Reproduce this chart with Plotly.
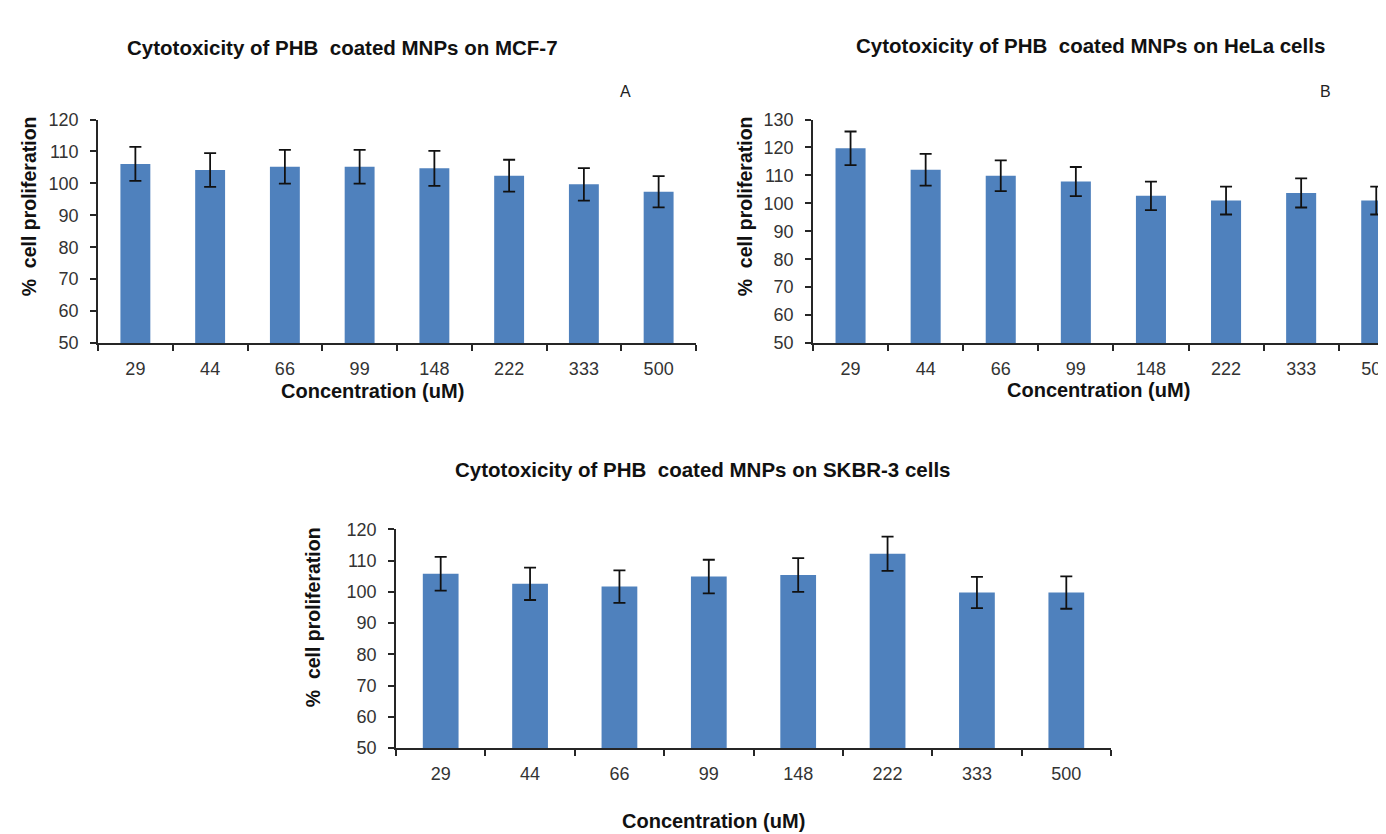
import plotly.graph_objects as go

W, H = 1386, 834

concentrations = ["29", "44", "66", "99", "148", "222", "333", "500"]

mcf7_values = [106.1, 104.2, 105.2, 105.2, 104.7, 102.4, 99.7, 97.4]
mcf7_errors = [5.3, 5.3, 5.3, 5.3, 5.5, 5.0, 5.1, 4.9]

hela_values = [119.7, 112.0, 109.9, 107.8, 102.7, 101.0, 103.7, 101.0]
hela_errors = [6.0, 5.7, 5.5, 5.2, 5.1, 5.0, 5.2, 5.0]

skbr3_values = [105.8, 102.6, 101.7, 104.9, 105.4, 112.2, 99.8, 99.8]
skbr3_errors = [5.4, 5.2, 5.2, 5.4, 5.4, 5.5, 5.0, 5.2]

titles = [
    "Cytotoxicity of PHB  coated MNPs on MCF-7",
    "Cytotoxicity of PHB  coated MNPs on HeLa cells",
    "Cytotoxicity of PHB  coated MNPs on SKBR-3 cells",
]
x_title = "Concentration (uM)"
y_title = "%  cell proliferation"
panel_letters = ["A", "B"]

BAR = "#4F81BD"
AXC = "#262626"
FONT = "Liberation Sans, Arial, sans-serif"

def fx(p):
    return p / W

def fy(p):
    return 1 - p / H

fig = go.Figure()

series = [
    (mcf7_values, mcf7_errors, "x", "y"),
    (hela_values, hela_errors, "x2", "y2"),
    (skbr3_values, skbr3_errors, "x3", "y3"),
]
for vals, errs, xa, ya in series:
    fig.add_trace(go.Bar(
        x=concentrations, y=vals, xaxis=xa, yaxis=ya,
        marker=dict(color=BAR, line=dict(width=0)),
        error_y=dict(type="data", array=errs, visible=True,
                     color="#111111", thickness=1.8, width=6),
        showlegend=False,
    ))

def xax(domain, rng):
    return dict(domain=domain, type="category", range=rng,
                tickson="boundaries", ticks="outside", ticklen=6,
                tickwidth=1.5, tickcolor=AXC, showline=True,
                linecolor=AXC, linewidth=1.5, showgrid=False,
                zeroline=False, ticklabelstandoff=9,
                tickfont=dict(family=FONT, size=18, color="#333333"))

def yax(domain, rng, anchor):
    return dict(domain=domain, range=rng, dtick=10, tick0=50,
                ticks="outside", ticklen=6, tickwidth=1.5,
                tickcolor=AXC, showline=True, linecolor=AXC,
                linewidth=1.5, showgrid=False, zeroline=False,
                anchor=anchor, ticklabelstandoff=8,
                tickfont=dict(family=FONT, size=18, color="#333333"))

b_right = -0.5 + (W - 805) / 75.1

fig.update_layout(
    width=W, height=H,
    margin=dict(l=0, r=0, t=0, b=0),
    paper_bgcolor="white", plot_bgcolor="white",
    bargap=0.6,
    xaxis=xax([fx(90), fx(688)], [-0.5, 7.5]) | dict(anchor="y"),
    yaxis=yax([fy(333), fy(104)], [50, 120], "x"),
    xaxis2=xax([fx(805), 1.0], [-0.5, b_right]) | dict(anchor="y2"),
    yaxis2=yax([fy(333), fy(104)], [50, 130], "x2"),
    xaxis3=xax([fx(388), fx(1103)], [-0.5, 7.5]) | dict(anchor="y3"),
    yaxis3=yax([fy(748), fy(524)], [50, 120], "x3"),
)

title_font = dict(family=FONT, size=20.5, color="#111111")
axis_font = dict(family=FONT, size=20, color="#111111")
yaxis_font = dict(family=FONT, size=19.5, color="#111111")
ann = []
# chart titles
for txt, cx, cy in [(titles[0], 334, 30), (titles[1], 1082, 28), (titles[2], 695, 463)]:
    ann.append(dict(text="<b>" + txt + "</b>", x=fx(cx), y=fy(cy), xref="paper",
                    yref="paper", showarrow=False, xanchor="center",
                    yanchor="middle", font=title_font))
# x axis titles
for cx, cy in [(364, 382), (1090, 381), (705, 823)]:
    ann.append(dict(text="<b>" + x_title + "</b>", x=fx(cx), y=fy(cy), xref="paper",
                    yref="paper", showarrow=False, xanchor="center",
                    yanchor="middle", font=axis_font))
# y axis titles
for cx, cy in [(21, 193), (737, 193), (305, 614)]:
    ann.append(dict(text="<b>" + y_title + "</b>", x=fx(cx), y=fy(cy), xref="paper",
                    yref="paper", showarrow=False, xanchor="center",
                    yanchor="middle", textangle=-90, font=yaxis_font))
# panel letters
for txt, cx, cy in [(panel_letters[0], 617, 75), (panel_letters[1], 1317, 75)]:
    ann.append(dict(text=txt, x=fx(cx), y=fy(cy), xref="paper", yref="paper",
                    showarrow=False, xanchor="center", yanchor="middle",
                    font=dict(family=FONT, size=16, color="#222222")))

fig.update_layout(annotations=ann)

fig.write_html("out.html")
